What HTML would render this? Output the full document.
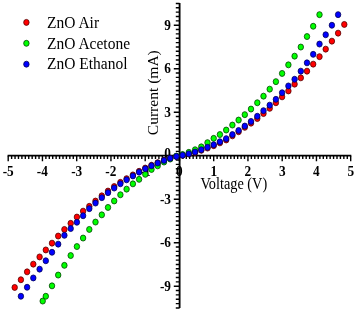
<!DOCTYPE html>
<html><head><meta charset="utf-8"><title>IV</title>
<style>
html,body{margin:0;padding:0;background:#fff;}
svg{display:block}
text{font-family:"Liberation Serif","DejaVu Serif",serif;fill:#000}
.tl{font-weight:bold;font-size:13.3px}
.lg{font-size:15.5px}
.ax{font-size:14.3px}
.ay{font-size:14.4px}
</style></head><body>
<svg width="357" height="310" viewBox="0 0 357 310">
<defs><filter id="sf" x="-2%" y="-2%" width="104%" height="104%"><feGaussianBlur stdDeviation="0.34"/></filter></defs>
<rect width="357" height="310" fill="#fff"/>
<g filter="url(#sf)">
<path d="M7.6 155.7H351.3" stroke="#000" stroke-width="1.7" fill="none"/><path d="M179.6 3.0V308" stroke="#000" stroke-width="1.85" fill="none"/>
<path d="M8.20 155.7v5.6 M11.62 155.7v3.4 M15.05 155.7v3.4 M18.47 155.7v3.4 M21.90 155.7v3.4 M25.32 155.7v3.4 M28.75 155.7v3.4 M32.17 155.7v3.4 M35.60 155.7v3.4 M39.02 155.7v3.4 M42.45 155.7v5.6 M45.88 155.7v3.4 M49.30 155.7v3.4 M52.72 155.7v3.4 M56.15 155.7v3.4 M59.57 155.7v3.4 M63.00 155.7v3.4 M66.42 155.7v3.4 M69.85 155.7v3.4 M73.27 155.7v3.4 M76.70 155.7v5.6 M80.12 155.7v3.4 M83.55 155.7v3.4 M86.97 155.7v3.4 M90.40 155.7v3.4 M93.82 155.7v3.4 M97.25 155.7v3.4 M100.67 155.7v3.4 M104.10 155.7v3.4 M107.52 155.7v3.4 M110.95 155.7v5.6 M114.37 155.7v3.4 M117.80 155.7v3.4 M121.22 155.7v3.4 M124.65 155.7v3.4 M128.07 155.7v3.4 M131.50 155.7v3.4 M134.92 155.7v3.4 M138.35 155.7v3.4 M141.77 155.7v3.4 M145.20 155.7v5.6 M148.62 155.7v3.4 M152.05 155.7v3.4 M155.47 155.7v3.4 M158.90 155.7v3.4 M162.32 155.7v3.4 M165.75 155.7v3.4 M169.17 155.7v3.4 M172.60 155.7v3.4 M176.02 155.7v3.4 M179.45 155.7v5.6 M182.88 155.7v3.4 M186.30 155.7v3.4 M189.72 155.7v3.4 M193.15 155.7v3.4 M196.57 155.7v3.4 M200.00 155.7v3.4 M203.42 155.7v3.4 M206.85 155.7v3.4 M210.27 155.7v3.4 M213.70 155.7v5.6 M217.12 155.7v3.4 M220.55 155.7v3.4 M223.97 155.7v3.4 M227.40 155.7v3.4 M230.82 155.7v3.4 M234.25 155.7v3.4 M237.67 155.7v3.4 M241.10 155.7v3.4 M244.52 155.7v3.4 M247.95 155.7v5.6 M251.38 155.7v3.4 M254.80 155.7v3.4 M258.23 155.7v3.4 M261.65 155.7v3.4 M265.07 155.7v3.4 M268.50 155.7v3.4 M271.92 155.7v3.4 M275.35 155.7v3.4 M278.77 155.7v3.4 M282.20 155.7v5.6 M285.62 155.7v3.4 M289.05 155.7v3.4 M292.48 155.7v3.4 M295.90 155.7v3.4 M299.32 155.7v3.4 M302.75 155.7v3.4 M306.17 155.7v3.4 M309.60 155.7v3.4 M313.02 155.7v3.4 M316.45 155.7v5.6 M319.88 155.7v3.4 M323.30 155.7v3.4 M326.73 155.7v3.4 M330.15 155.7v3.4 M333.57 155.7v3.4 M337.00 155.7v3.4 M340.42 155.7v3.4 M343.85 155.7v3.4 M347.27 155.7v3.4 M350.70 155.7v5.6 M179.6 307.95h-3.8 M179.6 303.60h-3.8 M179.6 299.25h-3.8 M179.6 294.90h-3.8 M179.6 290.55h-3.8 M179.6 286.20h-5.8 M179.6 281.85h-3.8 M179.6 277.50h-3.8 M179.6 273.15h-3.8 M179.6 268.80h-3.8 M179.6 264.45h-3.8 M179.6 260.10h-3.8 M179.6 255.75h-3.8 M179.6 251.40h-3.8 M179.6 247.05h-3.8 M179.6 242.70h-5.8 M179.6 238.35h-3.8 M179.6 234.00h-3.8 M179.6 229.65h-3.8 M179.6 225.30h-3.8 M179.6 220.95h-3.8 M179.6 216.60h-3.8 M179.6 212.25h-3.8 M179.6 207.90h-3.8 M179.6 203.55h-3.8 M179.6 199.20h-5.8 M179.6 194.85h-3.8 M179.6 190.50h-3.8 M179.6 186.15h-3.8 M179.6 181.80h-3.8 M179.6 177.45h-3.8 M179.6 173.10h-3.8 M179.6 168.75h-3.8 M179.6 164.40h-3.8 M179.6 160.05h-3.8 M179.6 155.70h-5.8 M179.6 151.35h-3.8 M179.6 147.00h-3.8 M179.6 142.65h-3.8 M179.6 138.30h-3.8 M179.6 133.95h-3.8 M179.6 129.60h-3.8 M179.6 125.25h-3.8 M179.6 120.90h-3.8 M179.6 116.55h-3.8 M179.6 112.20h-5.8 M179.6 107.85h-3.8 M179.6 103.50h-3.8 M179.6 99.15h-3.8 M179.6 94.80h-3.8 M179.6 90.45h-3.8 M179.6 86.10h-3.8 M179.6 81.75h-3.8 M179.6 77.40h-3.8 M179.6 73.05h-3.8 M179.6 68.70h-5.8 M179.6 64.35h-3.8 M179.6 60.00h-3.8 M179.6 55.65h-3.8 M179.6 51.30h-3.8 M179.6 46.95h-3.8 M179.6 42.60h-3.8 M179.6 38.25h-3.8 M179.6 33.90h-3.8 M179.6 29.55h-3.8 M179.6 25.20h-5.8 M179.6 20.85h-3.8 M179.6 16.50h-3.8 M179.6 12.15h-3.8 M179.6 7.80h-3.8 M179.6 3.45h-3.8" stroke="#000" stroke-width="1.4" fill="none"/>
<text transform="translate(8.2,176.4) scale(1,1.05)" text-anchor="middle" class="tl">-5</text><text transform="translate(42.4,176.4) scale(1,1.05)" text-anchor="middle" class="tl">-4</text><text transform="translate(76.7,176.4) scale(1,1.05)" text-anchor="middle" class="tl">-3</text><text transform="translate(110.9,176.4) scale(1,1.05)" text-anchor="middle" class="tl">-2</text><text transform="translate(145.2,176.4) scale(1,1.05)" text-anchor="middle" class="tl">-1</text><text transform="translate(213.7,176.4) scale(1,1.05)" text-anchor="middle" class="tl">1</text><text transform="translate(247.9,176.4) scale(1,1.05)" text-anchor="middle" class="tl">2</text><text transform="translate(282.2,176.4) scale(1,1.05)" text-anchor="middle" class="tl">3</text><text transform="translate(316.4,176.4) scale(1,1.05)" text-anchor="middle" class="tl">4</text><text transform="translate(350.7,176.4) scale(1,1.05)" text-anchor="middle" class="tl">5</text><text transform="translate(179.4,176.4) scale(1,1.05)" text-anchor="middle" class="tl">0</text>
<text transform="translate(171.0,29.5) scale(1,1.05)" text-anchor="end" class="tl">9</text><text transform="translate(171.0,73.0) scale(1,1.05)" text-anchor="end" class="tl">6</text><text transform="translate(171.0,116.5) scale(1,1.05)" text-anchor="end" class="tl">3</text><text transform="translate(171.0,203.5) scale(1,1.05)" text-anchor="end" class="tl">-3</text><text transform="translate(171.0,247.0) scale(1,1.05)" text-anchor="end" class="tl">-6</text><text transform="translate(171.0,290.5) scale(1,1.05)" text-anchor="end" class="tl">-9</text><text transform="translate(171.0,158.2) scale(1,1.05)" text-anchor="end" class="tl">0</text>
<text transform="translate(47.0,27.6) scale(1,1.08)" text-anchor="start" class="lg">ZnO Air</text>
<text transform="translate(47.0,48.7) scale(1,1.08)" text-anchor="start" class="lg">ZnO Acetone</text>
<text transform="translate(47.0,69.1) scale(1,1.08)" text-anchor="start" class="lg">ZnO Ethanol</text>
<text transform="translate(200.4,188.6) scale(1,1.17)" text-anchor="start" class="ax">Voltage (V)</text>
<text class="ay" transform="translate(157.5,135.2) scale(1,1.08) rotate(-90)">Current (mA)</text>
<g>
<ellipse cx="14.7" cy="287.45" rx="2.72" ry="3.0" fill="#f00" stroke="#500" stroke-width="0.8"/>
<ellipse cx="20.9" cy="279.75" rx="2.72" ry="3.0" fill="#f00" stroke="#500" stroke-width="0.8"/>
<ellipse cx="27.1" cy="271.85" rx="2.72" ry="3.0" fill="#f00" stroke="#500" stroke-width="0.8"/>
<ellipse cx="33.3" cy="264.15" rx="2.72" ry="3.0" fill="#f00" stroke="#500" stroke-width="0.8"/>
<ellipse cx="39.6" cy="256.95" rx="2.72" ry="3.0" fill="#f00" stroke="#500" stroke-width="0.8"/>
<ellipse cx="45.8" cy="249.95" rx="2.72" ry="3.0" fill="#f00" stroke="#500" stroke-width="0.8"/>
<ellipse cx="52.0" cy="243.15" rx="2.72" ry="3.0" fill="#f00" stroke="#500" stroke-width="0.8"/>
<ellipse cx="58.2" cy="236.05" rx="2.72" ry="3.0" fill="#f00" stroke="#500" stroke-width="0.8"/>
<ellipse cx="64.4" cy="229.45" rx="2.72" ry="3.0" fill="#f00" stroke="#500" stroke-width="0.8"/>
<ellipse cx="70.7" cy="223.35" rx="2.72" ry="3.0" fill="#f00" stroke="#500" stroke-width="0.8"/>
<ellipse cx="76.9" cy="217.05" rx="2.72" ry="3.0" fill="#f00" stroke="#500" stroke-width="0.8"/>
<ellipse cx="83.1" cy="211.15" rx="2.72" ry="3.0" fill="#f00" stroke="#500" stroke-width="0.8"/>
<ellipse cx="89.3" cy="206.35" rx="2.72" ry="3.0" fill="#f00" stroke="#500" stroke-width="0.8"/>
<ellipse cx="95.5" cy="201.05" rx="2.72" ry="3.0" fill="#f00" stroke="#500" stroke-width="0.8"/>
<ellipse cx="101.8" cy="195.85" rx="2.72" ry="3.0" fill="#f00" stroke="#500" stroke-width="0.8"/>
<ellipse cx="108.0" cy="191.05" rx="2.72" ry="3.0" fill="#f00" stroke="#500" stroke-width="0.8"/>
<ellipse cx="114.2" cy="186.55" rx="2.72" ry="3.0" fill="#f00" stroke="#500" stroke-width="0.8"/>
<ellipse cx="120.4" cy="182.35" rx="2.72" ry="3.0" fill="#f00" stroke="#500" stroke-width="0.8"/>
<ellipse cx="126.6" cy="178.65" rx="2.72" ry="3.0" fill="#f00" stroke="#500" stroke-width="0.8"/>
<ellipse cx="132.9" cy="174.92" rx="2.72" ry="3.0" fill="#f00" stroke="#500" stroke-width="0.8"/>
<ellipse cx="139.1" cy="171.29" rx="2.72" ry="3.0" fill="#f00" stroke="#500" stroke-width="0.8"/>
<ellipse cx="145.3" cy="168.06" rx="2.72" ry="3.0" fill="#f00" stroke="#500" stroke-width="0.8"/>
<ellipse cx="151.5" cy="165.24" rx="2.72" ry="3.0" fill="#f00" stroke="#500" stroke-width="0.8"/>
<ellipse cx="157.7" cy="162.71" rx="2.72" ry="3.0" fill="#f00" stroke="#500" stroke-width="0.8"/>
<ellipse cx="164.0" cy="160.28" rx="2.72" ry="3.0" fill="#f00" stroke="#500" stroke-width="0.8"/>
<ellipse cx="170.2" cy="158.25" rx="2.72" ry="3.0" fill="#f00" stroke="#500" stroke-width="0.8"/>
<ellipse cx="176.4" cy="156.45" rx="2.72" ry="3.0" fill="#f00" stroke="#500" stroke-width="0.8"/>
<ellipse cx="182.6" cy="155.25" rx="2.72" ry="3.0" fill="#f00" stroke="#500" stroke-width="0.8"/>
<ellipse cx="188.8" cy="154.04" rx="2.72" ry="3.0" fill="#f00" stroke="#500" stroke-width="0.8"/>
<ellipse cx="195.1" cy="152.42" rx="2.72" ry="3.0" fill="#f00" stroke="#500" stroke-width="0.8"/>
<ellipse cx="201.3" cy="150.31" rx="2.72" ry="3.0" fill="#f00" stroke="#500" stroke-width="0.8"/>
<ellipse cx="207.5" cy="148.09" rx="2.72" ry="3.0" fill="#f00" stroke="#500" stroke-width="0.8"/>
<ellipse cx="213.7" cy="145.68" rx="2.72" ry="3.0" fill="#f00" stroke="#500" stroke-width="0.8"/>
<ellipse cx="219.9" cy="142.86" rx="2.72" ry="3.0" fill="#f00" stroke="#500" stroke-width="0.8"/>
<ellipse cx="226.2" cy="139.95" rx="2.72" ry="3.0" fill="#f00" stroke="#500" stroke-width="0.8"/>
<ellipse cx="232.4" cy="135.85" rx="2.72" ry="3.0" fill="#f00" stroke="#500" stroke-width="0.8"/>
<ellipse cx="238.6" cy="131.75" rx="2.72" ry="3.0" fill="#f00" stroke="#500" stroke-width="0.8"/>
<ellipse cx="244.8" cy="127.35" rx="2.72" ry="3.0" fill="#f00" stroke="#500" stroke-width="0.8"/>
<ellipse cx="251.0" cy="123.15" rx="2.72" ry="3.0" fill="#f00" stroke="#500" stroke-width="0.8"/>
<ellipse cx="257.3" cy="118.55" rx="2.72" ry="3.0" fill="#f00" stroke="#500" stroke-width="0.8"/>
<ellipse cx="263.5" cy="113.55" rx="2.72" ry="3.0" fill="#f00" stroke="#500" stroke-width="0.8"/>
<ellipse cx="269.7" cy="108.35" rx="2.72" ry="3.0" fill="#f00" stroke="#500" stroke-width="0.8"/>
<ellipse cx="275.9" cy="102.75" rx="2.72" ry="3.0" fill="#f00" stroke="#500" stroke-width="0.8"/>
<ellipse cx="282.1" cy="96.85" rx="2.72" ry="3.0" fill="#f00" stroke="#500" stroke-width="0.8"/>
<ellipse cx="288.4" cy="90.95" rx="2.72" ry="3.0" fill="#f00" stroke="#500" stroke-width="0.8"/>
<ellipse cx="294.6" cy="84.15" rx="2.72" ry="3.0" fill="#f00" stroke="#500" stroke-width="0.8"/>
<ellipse cx="300.8" cy="77.85" rx="2.72" ry="3.0" fill="#f00" stroke="#500" stroke-width="0.8"/>
<ellipse cx="307.0" cy="71.15" rx="2.72" ry="3.0" fill="#f00" stroke="#500" stroke-width="0.8"/>
<ellipse cx="313.2" cy="64.15" rx="2.72" ry="3.0" fill="#f00" stroke="#500" stroke-width="0.8"/>
<ellipse cx="319.5" cy="56.65" rx="2.72" ry="3.0" fill="#f00" stroke="#500" stroke-width="0.8"/>
<ellipse cx="325.7" cy="49.15" rx="2.72" ry="3.0" fill="#f00" stroke="#500" stroke-width="0.8"/>
<ellipse cx="331.9" cy="41.15" rx="2.72" ry="3.0" fill="#f00" stroke="#500" stroke-width="0.8"/>
<ellipse cx="338.1" cy="33.15" rx="2.72" ry="3.0" fill="#f00" stroke="#500" stroke-width="0.8"/>
<ellipse cx="344.3" cy="24.45" rx="2.72" ry="3.0" fill="#f00" stroke="#500" stroke-width="0.8"/>
<ellipse cx="45.8" cy="296.25" rx="2.72" ry="3.0" fill="#0f0" stroke="#040" stroke-width="0.8"/>
<ellipse cx="52.0" cy="285.85" rx="2.72" ry="3.0" fill="#0f0" stroke="#040" stroke-width="0.8"/>
<ellipse cx="58.2" cy="275.05" rx="2.72" ry="3.0" fill="#0f0" stroke="#040" stroke-width="0.8"/>
<ellipse cx="64.4" cy="265.35" rx="2.72" ry="3.0" fill="#0f0" stroke="#040" stroke-width="0.8"/>
<ellipse cx="70.7" cy="255.55" rx="2.72" ry="3.0" fill="#0f0" stroke="#040" stroke-width="0.8"/>
<ellipse cx="76.9" cy="246.55" rx="2.72" ry="3.0" fill="#0f0" stroke="#040" stroke-width="0.8"/>
<ellipse cx="83.1" cy="238.05" rx="2.72" ry="3.0" fill="#0f0" stroke="#040" stroke-width="0.8"/>
<ellipse cx="89.3" cy="229.45" rx="2.72" ry="3.0" fill="#0f0" stroke="#040" stroke-width="0.8"/>
<ellipse cx="95.5" cy="222.05" rx="2.72" ry="3.0" fill="#0f0" stroke="#040" stroke-width="0.8"/>
<ellipse cx="101.8" cy="214.85" rx="2.72" ry="3.0" fill="#0f0" stroke="#040" stroke-width="0.8"/>
<ellipse cx="108.0" cy="207.45" rx="2.72" ry="3.0" fill="#0f0" stroke="#040" stroke-width="0.8"/>
<ellipse cx="114.2" cy="200.95" rx="2.72" ry="3.0" fill="#0f0" stroke="#040" stroke-width="0.8"/>
<ellipse cx="120.4" cy="194.75" rx="2.72" ry="3.0" fill="#0f0" stroke="#040" stroke-width="0.8"/>
<ellipse cx="126.6" cy="189.15" rx="2.72" ry="3.0" fill="#0f0" stroke="#040" stroke-width="0.8"/>
<ellipse cx="132.9" cy="183.85" rx="2.72" ry="3.0" fill="#0f0" stroke="#040" stroke-width="0.8"/>
<ellipse cx="139.1" cy="179.35" rx="2.72" ry="3.0" fill="#0f0" stroke="#040" stroke-width="0.8"/>
<ellipse cx="145.3" cy="174.35" rx="2.72" ry="3.0" fill="#0f0" stroke="#040" stroke-width="0.8"/>
<ellipse cx="151.5" cy="169.45" rx="2.72" ry="3.0" fill="#0f0" stroke="#040" stroke-width="0.8"/>
<ellipse cx="157.7" cy="165.85" rx="2.72" ry="3.0" fill="#0f0" stroke="#040" stroke-width="0.8"/>
<ellipse cx="164.0" cy="162.05" rx="2.72" ry="3.0" fill="#0f0" stroke="#040" stroke-width="0.8"/>
<ellipse cx="170.2" cy="159.05" rx="2.72" ry="3.0" fill="#0f0" stroke="#040" stroke-width="0.8"/>
<ellipse cx="176.4" cy="156.05" rx="2.72" ry="3.0" fill="#0f0" stroke="#040" stroke-width="0.8"/>
<ellipse cx="182.6" cy="154.45" rx="2.72" ry="3.0" fill="#0f0" stroke="#040" stroke-width="0.8"/>
<ellipse cx="188.8" cy="152.35" rx="2.72" ry="3.0" fill="#0f0" stroke="#040" stroke-width="0.8"/>
<ellipse cx="195.1" cy="149.75" rx="2.72" ry="3.0" fill="#0f0" stroke="#040" stroke-width="0.8"/>
<ellipse cx="201.3" cy="146.85" rx="2.72" ry="3.0" fill="#0f0" stroke="#040" stroke-width="0.8"/>
<ellipse cx="207.5" cy="142.65" rx="2.72" ry="3.0" fill="#0f0" stroke="#040" stroke-width="0.8"/>
<ellipse cx="213.7" cy="138.35" rx="2.72" ry="3.0" fill="#0f0" stroke="#040" stroke-width="0.8"/>
<ellipse cx="219.9" cy="134.55" rx="2.72" ry="3.0" fill="#0f0" stroke="#040" stroke-width="0.8"/>
<ellipse cx="226.2" cy="130.05" rx="2.72" ry="3.0" fill="#0f0" stroke="#040" stroke-width="0.8"/>
<ellipse cx="232.4" cy="125.05" rx="2.72" ry="3.0" fill="#0f0" stroke="#040" stroke-width="0.8"/>
<ellipse cx="238.6" cy="120.05" rx="2.72" ry="3.0" fill="#0f0" stroke="#040" stroke-width="0.8"/>
<ellipse cx="244.8" cy="114.65" rx="2.72" ry="3.0" fill="#0f0" stroke="#040" stroke-width="0.8"/>
<ellipse cx="251.0" cy="109.05" rx="2.72" ry="3.0" fill="#0f0" stroke="#040" stroke-width="0.8"/>
<ellipse cx="257.3" cy="102.75" rx="2.72" ry="3.0" fill="#0f0" stroke="#040" stroke-width="0.8"/>
<ellipse cx="263.5" cy="96.15" rx="2.72" ry="3.0" fill="#0f0" stroke="#040" stroke-width="0.8"/>
<ellipse cx="269.7" cy="89.15" rx="2.72" ry="3.0" fill="#0f0" stroke="#040" stroke-width="0.8"/>
<ellipse cx="275.9" cy="81.65" rx="2.72" ry="3.0" fill="#0f0" stroke="#040" stroke-width="0.8"/>
<ellipse cx="282.1" cy="73.45" rx="2.72" ry="3.0" fill="#0f0" stroke="#040" stroke-width="0.8"/>
<ellipse cx="288.4" cy="64.85" rx="2.72" ry="3.0" fill="#0f0" stroke="#040" stroke-width="0.8"/>
<ellipse cx="294.6" cy="56.15" rx="2.72" ry="3.0" fill="#0f0" stroke="#040" stroke-width="0.8"/>
<ellipse cx="300.8" cy="47.05" rx="2.72" ry="3.0" fill="#0f0" stroke="#040" stroke-width="0.8"/>
<ellipse cx="307.0" cy="36.55" rx="2.72" ry="3.0" fill="#0f0" stroke="#040" stroke-width="0.8"/>
<ellipse cx="313.2" cy="26.25" rx="2.72" ry="3.0" fill="#0f0" stroke="#040" stroke-width="0.8"/>
<ellipse cx="319.5" cy="14.65" rx="2.72" ry="3.0" fill="#0f0" stroke="#040" stroke-width="0.8"/>
<ellipse cx="42.7" cy="301.05" rx="2.72" ry="3.0" fill="#0f0" stroke="#040" stroke-width="0.8"/>
<ellipse cx="20.9" cy="296.25" rx="2.72" ry="3.0" fill="#00f" stroke="#005" stroke-width="0.8"/>
<ellipse cx="27.1" cy="287.25" rx="2.72" ry="3.0" fill="#00f" stroke="#005" stroke-width="0.8"/>
<ellipse cx="33.3" cy="277.95" rx="2.72" ry="3.0" fill="#00f" stroke="#005" stroke-width="0.8"/>
<ellipse cx="39.6" cy="269.15" rx="2.72" ry="3.0" fill="#00f" stroke="#005" stroke-width="0.8"/>
<ellipse cx="45.8" cy="260.75" rx="2.72" ry="3.0" fill="#00f" stroke="#005" stroke-width="0.8"/>
<ellipse cx="52.0" cy="252.25" rx="2.72" ry="3.0" fill="#00f" stroke="#005" stroke-width="0.8"/>
<ellipse cx="58.2" cy="244.15" rx="2.72" ry="3.0" fill="#00f" stroke="#005" stroke-width="0.8"/>
<ellipse cx="64.4" cy="235.35" rx="2.72" ry="3.0" fill="#00f" stroke="#005" stroke-width="0.8"/>
<ellipse cx="70.7" cy="228.55" rx="2.72" ry="3.0" fill="#00f" stroke="#005" stroke-width="0.8"/>
<ellipse cx="76.9" cy="222.25" rx="2.72" ry="3.0" fill="#00f" stroke="#005" stroke-width="0.8"/>
<ellipse cx="83.1" cy="215.75" rx="2.72" ry="3.0" fill="#00f" stroke="#005" stroke-width="0.8"/>
<ellipse cx="89.3" cy="208.65" rx="2.72" ry="3.0" fill="#00f" stroke="#005" stroke-width="0.8"/>
<ellipse cx="95.5" cy="203.05" rx="2.72" ry="3.0" fill="#00f" stroke="#005" stroke-width="0.8"/>
<ellipse cx="101.8" cy="197.65" rx="2.72" ry="3.0" fill="#00f" stroke="#005" stroke-width="0.8"/>
<ellipse cx="108.0" cy="192.65" rx="2.72" ry="3.0" fill="#00f" stroke="#005" stroke-width="0.8"/>
<ellipse cx="114.2" cy="188.05" rx="2.72" ry="3.0" fill="#00f" stroke="#005" stroke-width="0.8"/>
<ellipse cx="120.4" cy="183.75" rx="2.72" ry="3.0" fill="#00f" stroke="#005" stroke-width="0.8"/>
<ellipse cx="126.6" cy="179.85" rx="2.72" ry="3.0" fill="#00f" stroke="#005" stroke-width="0.8"/>
<ellipse cx="132.9" cy="175.95" rx="2.72" ry="3.0" fill="#00f" stroke="#005" stroke-width="0.8"/>
<ellipse cx="139.1" cy="172.15" rx="2.72" ry="3.0" fill="#00f" stroke="#005" stroke-width="0.8"/>
<ellipse cx="145.3" cy="168.75" rx="2.72" ry="3.0" fill="#00f" stroke="#005" stroke-width="0.8"/>
<ellipse cx="151.5" cy="165.75" rx="2.72" ry="3.0" fill="#00f" stroke="#005" stroke-width="0.8"/>
<ellipse cx="157.7" cy="163.05" rx="2.72" ry="3.0" fill="#00f" stroke="#005" stroke-width="0.8"/>
<ellipse cx="164.0" cy="160.45" rx="2.72" ry="3.0" fill="#00f" stroke="#005" stroke-width="0.8"/>
<ellipse cx="170.2" cy="158.25" rx="2.72" ry="3.0" fill="#00f" stroke="#005" stroke-width="0.8"/>
<ellipse cx="176.4" cy="156.45" rx="2.72" ry="3.0" fill="#00f" stroke="#005" stroke-width="0.8"/>
<ellipse cx="182.6" cy="155.25" rx="2.72" ry="3.0" fill="#00f" stroke="#005" stroke-width="0.8"/>
<ellipse cx="188.8" cy="153.85" rx="2.72" ry="3.0" fill="#00f" stroke="#005" stroke-width="0.8"/>
<ellipse cx="195.1" cy="152.05" rx="2.72" ry="3.0" fill="#00f" stroke="#005" stroke-width="0.8"/>
<ellipse cx="201.3" cy="149.75" rx="2.72" ry="3.0" fill="#00f" stroke="#005" stroke-width="0.8"/>
<ellipse cx="207.5" cy="147.35" rx="2.72" ry="3.0" fill="#00f" stroke="#005" stroke-width="0.8"/>
<ellipse cx="213.7" cy="144.75" rx="2.72" ry="3.0" fill="#00f" stroke="#005" stroke-width="0.8"/>
<ellipse cx="219.9" cy="141.75" rx="2.72" ry="3.0" fill="#00f" stroke="#005" stroke-width="0.8"/>
<ellipse cx="226.2" cy="138.65" rx="2.72" ry="3.0" fill="#00f" stroke="#005" stroke-width="0.8"/>
<ellipse cx="232.4" cy="134.55" rx="2.72" ry="3.0" fill="#00f" stroke="#005" stroke-width="0.8"/>
<ellipse cx="238.6" cy="130.45" rx="2.72" ry="3.0" fill="#00f" stroke="#005" stroke-width="0.8"/>
<ellipse cx="244.8" cy="126.05" rx="2.72" ry="3.0" fill="#00f" stroke="#005" stroke-width="0.8"/>
<ellipse cx="251.0" cy="121.45" rx="2.72" ry="3.0" fill="#00f" stroke="#005" stroke-width="0.8"/>
<ellipse cx="257.3" cy="116.25" rx="2.72" ry="3.0" fill="#00f" stroke="#005" stroke-width="0.8"/>
<ellipse cx="263.5" cy="110.65" rx="2.72" ry="3.0" fill="#00f" stroke="#005" stroke-width="0.8"/>
<ellipse cx="269.7" cy="105.15" rx="2.72" ry="3.0" fill="#00f" stroke="#005" stroke-width="0.8"/>
<ellipse cx="275.9" cy="99.35" rx="2.72" ry="3.0" fill="#00f" stroke="#005" stroke-width="0.8"/>
<ellipse cx="282.1" cy="92.75" rx="2.72" ry="3.0" fill="#00f" stroke="#005" stroke-width="0.8"/>
<ellipse cx="288.4" cy="85.95" rx="2.72" ry="3.0" fill="#00f" stroke="#005" stroke-width="0.8"/>
<ellipse cx="294.6" cy="79.25" rx="2.72" ry="3.0" fill="#00f" stroke="#005" stroke-width="0.8"/>
<ellipse cx="300.8" cy="71.15" rx="2.72" ry="3.0" fill="#00f" stroke="#005" stroke-width="0.8"/>
<ellipse cx="307.0" cy="62.85" rx="2.72" ry="3.0" fill="#00f" stroke="#005" stroke-width="0.8"/>
<ellipse cx="313.2" cy="54.35" rx="2.72" ry="3.0" fill="#00f" stroke="#005" stroke-width="0.8"/>
<ellipse cx="319.5" cy="44.05" rx="2.72" ry="3.0" fill="#00f" stroke="#005" stroke-width="0.8"/>
<ellipse cx="325.7" cy="34.75" rx="2.72" ry="3.0" fill="#00f" stroke="#005" stroke-width="0.8"/>
<ellipse cx="331.9" cy="25.25" rx="2.72" ry="3.0" fill="#00f" stroke="#005" stroke-width="0.8"/>
<ellipse cx="338.1" cy="14.65" rx="2.72" ry="3.0" fill="#00f" stroke="#005" stroke-width="0.8"/>
</g>
<ellipse cx="26.4" cy="22.4" rx="2.72" ry="3.0" fill="#f00" stroke="#500" stroke-width="0.8"/>
<ellipse cx="26.4" cy="43.3" rx="2.72" ry="3.0" fill="#0f0" stroke="#040" stroke-width="0.8"/>
<ellipse cx="26.4" cy="64.2" rx="2.72" ry="3.0" fill="#00f" stroke="#005" stroke-width="0.8"/>
</g>
</svg>
</body></html>
